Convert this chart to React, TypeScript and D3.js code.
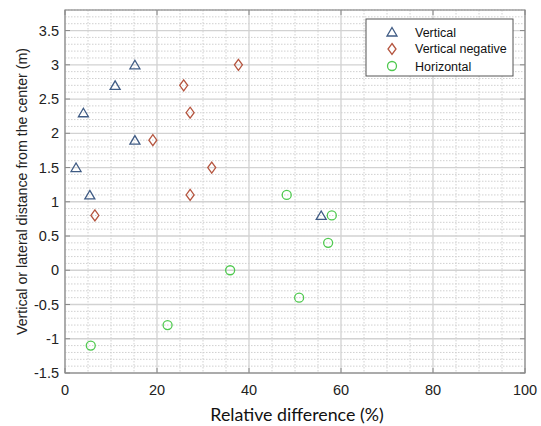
import React from "react";
import * as d3 from "d3";

const verticalX = [15.2, 10.9, 4.0, 15.2, 2.4, 5.4, 55.7];
const verticalY = [3.0, 2.7, 2.3, 1.9, 1.5, 1.1, 0.8];
const vnegX = [37.7, 25.8, 27.2, 19.1, 31.9, 27.2, 6.5];
const vnegY = [3.0, 2.7, 2.3, 1.9, 1.5, 1.1, 0.8];
const horizX = [48.2, 58.0, 57.2, 35.9, 50.9, 22.3, 5.6];
const horizY = [1.1, 0.8, 0.4, 0.0, -0.4, -0.8, -1.1];
const xTicks = [0, 20, 40, 60, 80, 100];
const yTicks = [-1.5, -1, -0.5, 0, 0.5, 1, 1.5, 2, 2.5, 3, 3.5];
const legendLabels = ["Vertical", "Vertical negative", "Horizontal"];

const W = 541, H = 426;
const L = 65, R = 525, T = 10, B = 373;

const triColor = "#3f5b84";
const diaColor = "#b5553f";
const cirColor = "#4fc94f";

function Tri({ x, y }: { x: number; y: number }) {
  return <path d={`M${x},${y - 4.5}L${x + 5},${y + 4}L${x - 5},${y + 4}Z`} fill="none" stroke={triColor} strokeWidth={1.3} />;
}
function Dia({ x, y }: { x: number; y: number }) {
  return <path d={`M${x},${y - 5.5}L${x + 4},${y}L${x},${y + 5.5}L${x - 4},${y}Z`} fill="none" stroke={diaColor} strokeWidth={1.3} />;
}
function Cir({ x, y }: { x: number; y: number }) {
  return <circle cx={x} cy={y} r={4.5} fill="none" stroke={cirColor} strokeWidth={1.3} />;
}

export default function App() {
  const x = d3.scaleLinear().domain([0, 100]).range([L, R]);
  const y = d3.scaleLinear().domain([-1.5, 3.8]).range([B, T]);
  const xMinor = d3.range(0, 100.001, 5).filter((v) => v % 20 !== 0);
  const yMinor = d3.range(-1.5, 3.8001, 0.1).map((v) => Math.round(v * 10) / 10).filter((v) => Math.abs(v * 2 - Math.round(v * 2)) > 1e-6);
  const font = "'Liberation Sans', Arial, sans-serif";
  return (
    <svg width={W} height={H} style={{ position: "absolute", left: 0, top: 0, background: "#fff" }}>
      <rect x={L} y={T} width={R - L} height={B - T} fill="#fff" />
      {xMinor.map((v) => (
        <line key={"xm" + v} x1={x(v)} x2={x(v)} y1={T} y2={B} stroke="#d0d0d0" strokeDasharray="1.5,1.5" />
      ))}
      {yMinor.map((v) => (
        <line key={"ym" + v} x1={L} x2={R} y1={y(v)} y2={y(v)} stroke="#d0d0d0" strokeDasharray="1.5,1.5" />
      ))}
      {xTicks.map((v) => (
        <line key={"xg" + v} x1={x(v)} x2={x(v)} y1={T} y2={B} stroke="#d2d2d2" strokeWidth={1.3} />
      ))}
      {yTicks.map((v) => (
        <line key={"yg" + v} x1={L} x2={R} y1={y(v)} y2={y(v)} stroke="#d2d2d2" strokeWidth={1.3} />
      ))}
      <rect x={L} y={T} width={R - L} height={B - T} fill="none" stroke="#8a8a8a" strokeWidth={1.2} />
      {xTicks.map((v) => (
        <g key={"xt" + v}>
          <line x1={x(v)} x2={x(v)} y1={B} y2={B - 5} stroke="#8a8a8a" />
          <line x1={x(v)} x2={x(v)} y1={T} y2={T + 5} stroke="#8a8a8a" />
          <text x={x(v)} y={394.5} textAnchor="middle" fontFamily={font} fontSize={14.5} fill="#222">{v}</text>
        </g>
      ))}
      {yTicks.map((v) => (
        <g key={"yt" + v}>
          <line x1={L} x2={L + 5} y1={y(v)} y2={y(v)} stroke="#8a8a8a" />
          <line x1={R} x2={R - 5} y1={y(v)} y2={y(v)} stroke="#8a8a8a" />
          <text x={59} y={y(v) + 5} textAnchor="end" fontFamily={font} fontSize={14.5} fill="#222">{v}</text>
        </g>
      ))}
      {verticalX.map((v, i) => <Tri key={"v" + i} x={x(v)} y={y(verticalY[i])} />)}
      {vnegX.map((v, i) => <Dia key={"d" + i} x={x(v)} y={y(vnegY[i])} />)}
      {horizX.map((v, i) => <Cir key={"c" + i} x={x(v)} y={y(horizY[i])} />)}
      <g>
        <rect x={366} y={19} width={147} height={57} fill="#fff" stroke="#555" strokeWidth={1} />
        <Tri x={392} y={32} />
        <Dia x={392} y={49} />
        <Cir x={392} y={66} />
        {legendLabels.map((t, i) => (
          <text key={t} x={415} y={[36.5, 53, 70.5][i]} fontFamily={font} fontSize={12.5} fill="#111">{t}</text>
        ))}
      </g>
      <text x={297} y={421} textAnchor="middle" fontFamily="Lato, 'Open Sans', sans-serif" fontSize={17.8} fill="#111">Relative difference (%)</text>
      <text transform={`translate(27,${(T + B) / 2}) rotate(-90)`} textAnchor="middle" fontFamily={font} fontSize={14.2} fill="#222">Vertical or lateral distance from the center (m)</text>
    </svg>
  );
}
